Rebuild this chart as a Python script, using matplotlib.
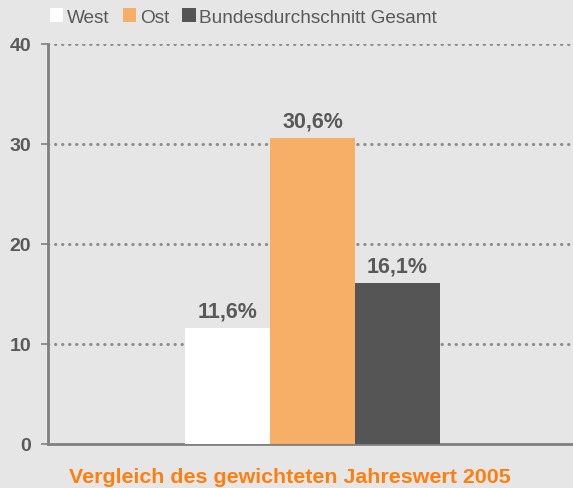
import matplotlib.pyplot as plt
from matplotlib.patches import Patch

series = ['West', 'Ost', 'Bundesdurchschnitt Gesamt']
values = [11.6, 30.6, 16.1]
labels = ['11,6%', '30,6%', '16,1%']
colors = ['#ffffff', '#f7af67', '#555555']
yticks = [0, 10, 20, 30, 40]
xlabel = 'Vergleich des gewichteten Jahreswert 2005'

bg = '#e6e6e6'
grey = '#595959'
plt.rcParams['font.family'] = ['Liberation Sans', 'DejaVu Sans']

fig = plt.figure(figsize=(5.73, 4.89), dpi=100, facecolor=bg)
ax = fig.add_axes([48 / 573, 44 / 489, 525 / 573, 400 / 489], facecolor=bg)

pos = list(range(len(values)))
ax.bar(pos, values, width=1.0, color=colors, zorder=3)
for p, v, t in zip(pos, values, labels):
    ax.text(p, v + 0.6, t, ha='center', va='bottom', fontsize=15.5,
            fontweight='bold', color=grey, zorder=4)

ax.set_xlim(-2.112, 4.065)
ax.set_ylim(0, 40)
ax.set_yticks(yticks)
ax.set_yticklabels([str(y) for y in yticks], fontsize=14, fontweight='bold', color=grey)
ax.set_xticks([])
for y in yticks[1:]:
    ax.axhline(y, color='#8c8c8c', linestyle=(0, (0.1, 2.2)), linewidth=2.2,
               dash_capstyle='round', zorder=1)

for s in ['top', 'right']:
    ax.spines[s].set_visible(False)
for s in ['left', 'bottom']:
    ax.spines[s].set_color('#808080')
    ax.spines[s].set_linewidth(2)
ax.tick_params(axis='y', length=5, width=1.2, color='#808080', pad=7)

# title under the chart, slightly left of the axes centre
fig.text(289.5 / 573, 6 / 489, xlabel, ha='center', va='baseline', fontsize=15.4,
         fontweight='bold', color='#ff7f0e')

handles = [Patch(facecolor=c, edgecolor='none') for c in colors]
fig.legend(handles, series, loc='center left', bbox_to_anchor=(0.07, 0.963),
           ncol=3, frameon=False, fontsize=13.7, handlelength=0.7, handleheight=0.7,
           handletextpad=0.2, columnspacing=0.7, labelcolor=grey, borderpad=0)

fig.savefig('out.png', dpi=100, facecolor=bg)
